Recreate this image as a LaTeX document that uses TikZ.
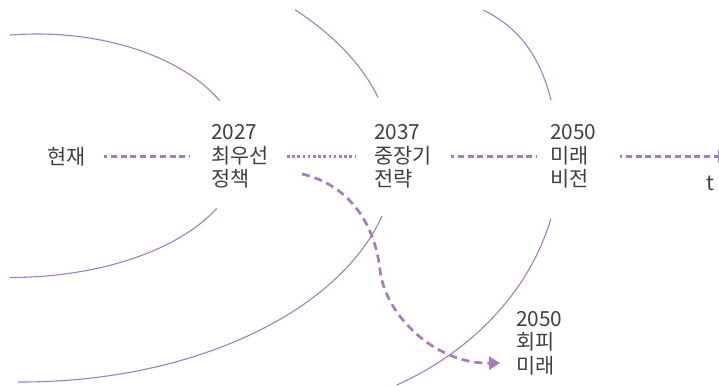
\documentclass[tikz,border=0pt]{standalone}
\usepackage{fontspec}
\setmainfont{Noto Sans CJK KR}
\usetikzlibrary{arrows.meta,calc}
\definecolor{arcpurple}{HTML}{A47DC0}
\definecolor{dashpurple}{HTML}{A57CC2}
\definecolor{txtgray}{HTML}{404040}
\begin{document}
\begin{tikzpicture}[x=1pt,y=-1pt,
  arcline/.style={draw=arcpurple,line width=1.1pt},
  dashA/.style={draw=dashpurple,line width=2.6pt,dash pattern=on 6pt off 3.8pt,dash phase=3pt},
  dotB/.style={draw=dashpurple,line width=2.1pt,dash pattern=on 2.6pt off 2.6pt},
  curvearrow/.style={draw=dashpurple,line width=2.7pt,dash pattern=on 8pt off 5pt,
     -{Triangle[length=11pt,width=13pt,fill=dashpurple]}},
  endarrow/.style={draw=dashpurple,line width=2.6pt,dash pattern=on 6pt off 3.8pt,dash phase=4pt,
     -{Triangle[length=12pt,width=12pt,fill=dashpurple]}},
  lbl/.style={text=txtgray,font=\fontsize{20.8}{23.5}\selectfont,align=left,anchor=west,inner sep=0pt}]
\useasboundingbox (0,0) rectangle (719,386);
% arcs (ellipse segments)
\draw[arcline] ($(37,156)+(-97.6:205 and 122)$) arc[start angle=-97.6,end angle=-27,x radius=205,y radius=122];
\draw[arcline] ($(10,156)+(25.5:229 and 121.5)$) arc[start angle=25.5,end angle=90,x radius=229,y radius=121.5];
\draw[arcline] ($(-16,156)+(-40.3:408 and 226)$) arc[start angle=-40.3,end angle=-15,x radius=408,y radius=226];
\draw[arcline] ($(21.5,156)+(15.4:374 and 226)$) arc[start angle=15.4,end angle=90.5,x radius=374,y radius=226];
\draw[arcline] (483,10) .. controls (525,30) and (542,65) .. (551,100);
\draw[arcline] ($(250,156)+(14:310 and 260)$) arc[start angle=14,end angle=61.8,x radius=310,y radius=260];
% labels
\node[lbl] (now) at (47,156.5) {현재};
\node[lbl] (p27) at (211,156.5) {2027\\최우선\\정책};
\node[lbl] (p37) at (374,156.5) {2037\\중장기\\전략};
\node[lbl] (p50) at (550,156.5) {2050\\미래\\비전};
\node[lbl] (av50) at (516,343) {2050\\회피\\미래};
\node[lbl,anchor=center] (tlbl) at (710,183) {t};
\coordinate (tend) at (730,156.5);
% timeline connectors
\draw[dashA] ([xshift=57pt]now.west) -- ([xshift=-21pt]p27.west);
\draw[dotB] ([xshift=76pt]p27.west) -- ([xshift=-19pt]p37.west);
\draw[dashA] ([xshift=77pt]p37.west) -- ([xshift=-13pt]p50.west);
\draw[endarrow] ([xshift=70pt]p50.west) -- (tend);
% branch curve
\draw[curvearrow] ($(p27.west)+(91,17.5)$) .. controls (350,185) and (375,225) .. (380,270)
   .. controls (385,315) and (435,364) .. ($(av50.west)+(-16,20)$);
\end{tikzpicture}
\end{document}
